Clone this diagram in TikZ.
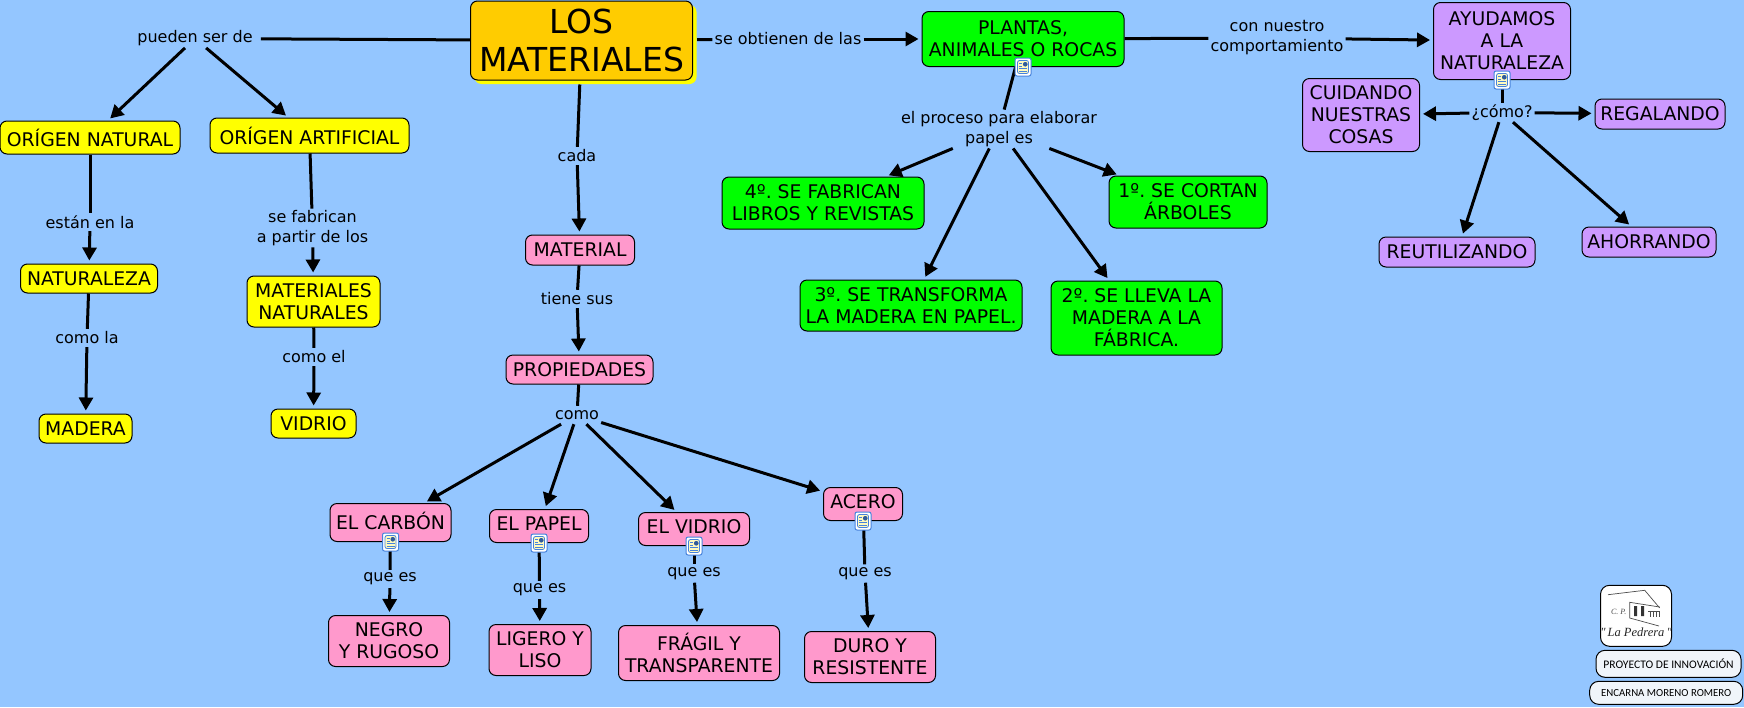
\documentclass[tikz,border=0pt]{standalone}
\usepackage{fontspec}
\setmainfont{DejaVu Sans}
\newfontfamily\smallfont{Carlito}
\newfontfamily\logofont{Liberation Serif}
\usetikzlibrary{arrows.meta,shadows}
\frenchspacing

\definecolor{bgblue}{RGB}{148,198,255}
\definecolor{matorange}{RGB}{255,204,0}
\definecolor{matyellow}{RGB}{255,255,0}
\definecolor{matgreen}{RGB}{0,255,0}
\definecolor{matpink}{RGB}{255,153,204}
\definecolor{matpurple}{RGB}{204,153,255}
\definecolor{paleblue}{RGB}{240,245,250}
\definecolor{iconblue}{RGB}{70,130,220}
\definecolor{iconpage}{RGB}{255,250,190}

\tikzset{
    box/.style={draw=black, line width=1pt, rounded corners=7pt, align=center, inner sep=0pt,
        text=black, font=\fontsize{18.8}{22}\selectfont},
    yellowbox/.style={box, fill=matyellow},
    greenbox/.style={box, fill=matgreen},
    pinkbox/.style={box, fill=matpink},
    purplebox/.style={box, fill=matpurple},
    raised/.style={text depth=4pt},
    lab/.style={align=center, inner xsep=2pt, inner ysep=1.5pt, minimum height=18pt,
        text=black, font=\fontsize{16}{20}\selectfont},
    link/.style={line width=3pt, draw=black},
    linkarrow/.style={link, -{Triangle[length=13pt,width=14pt]}, shorten >=3pt},
    credit/.style={draw=black, line width=1pt, rounded corners=9pt, fill=paleblue, inner sep=0pt,
        font=\smallfont\fontsize{11.6}{14}\selectfont},
    docicon/.style={draw=iconblue, line width=1pt, rounded corners=2pt, fill=white,
        minimum width=16pt, minimum height=18pt, inner sep=0pt,
        path picture={
            \begin{scope}[shift={(path picture bounding box.center)}]
                \draw[fill=iconpage, line width=0.8pt] (-5.5,-6.5) rectangle (5.5,6.5);
                \fill[iconblue!70!black] (0,-5) rectangle (4.5,-0.5);
                \draw[line width=0.8pt] (-4,-3.5) -- (-1,-3.5) (-4,-1) -- (-1,-1)
                    (-4,1.5) -- (4,1.5) (-4,4) -- (4,4);
            \end{scope}
        }},
}

\begin{document}
\begin{tikzpicture}[x=1pt, y=-1pt]
    \path[use as bounding box, fill=bgblue] (0,0) rectangle (1744,707);

    % main concept
    \node[box, fill=matorange, general shadow={fill=matyellow, shadow xshift=4pt, shadow yshift=-4pt},
        font=\fontsize{33}{38}\selectfont, minimum width=222pt, minimum height=79pt] (los) at (581.5,40.5) {LOS\hspace{9pt}\\MATERIALES};

    % yellow branch
    \node[yellowbox, minimum width=180pt, minimum height=33pt] (natural) at (90,137.5) {ORÍGEN NATURAL};
    \node[yellowbox, minimum width=199pt, minimum height=35pt] (artificial) at (309.5,135.5) {ORÍGEN ARTIFICIAL};
    \node[yellowbox, minimum width=137pt, minimum height=29pt] (naturaleza) at (89,278.5) {NATURALEZA};
    \node[yellowbox, minimum width=133pt, minimum height=51pt] (naturales) at (313.5,301.5) {MATERIALES\\NATURALES};
    \node[yellowbox, minimum width=93pt, minimum height=29pt] (madera) at (85.5,428.5) {MADERA};
    \node[yellowbox, minimum width=85pt, minimum height=29pt] (vidrio) at (313.5,423.5) {VIDRIO};

    % pink branch
    \node[pinkbox, minimum width=109pt, minimum height=30pt] (material) at (580,250) {MATERIAL};
    \node[pinkbox, minimum width=147pt, minimum height=29pt] (propiedades) at (579.5,369.5) {PROPIEDADES};
    \node[pinkbox, raised, minimum width=121pt, minimum height=38pt] (carbon) at (390.5,522.5) {EL CARBÓN};
    \node[pinkbox, raised, minimum width=99pt, minimum height=33pt] (papel) at (539,526) {EL PAPEL};
    \node[pinkbox, raised, minimum width=111pt, minimum height=33pt] (elvidrio) at (694,529) {EL VIDRIO};
    \node[pinkbox, raised, minimum width=79pt, minimum height=33pt] (acero) at (863,504) {ACERO};
    \node[pinkbox, minimum width=121pt, minimum height=51pt] (negro) at (389,641) {NEGRO\\Y RUGOSO};
    \node[pinkbox, minimum width=102pt, minimum height=51pt] (ligero) at (540,650) {LIGERO Y\\LISO};
    \node[pinkbox, minimum width=161pt, minimum height=55pt] (fragil) at (699,653) {FRÁGIL Y\\TRANSPARENTE};
    \node[pinkbox, minimum width=131pt, minimum height=51pt] (duro) at (870,657) {DURO Y\\RESISTENTE};

    % green branch
    \node[greenbox, minimum width=202pt, minimum height=55pt] (plantas) at (1023,39) {PLANTAS,\\ANIMALES O ROCAS};
    \node[greenbox, minimum width=202pt, minimum height=52pt] (cuarto) at (823,203) {4º. SE FABRICAN\\LIBROS Y REVISTAS};
    \node[greenbox, minimum width=158pt, minimum height=52pt] (primero) at (1188,202) {1º. SE CORTAN\\ÁRBOLES};
    \node[greenbox, minimum width=222pt, minimum height=51pt] (tercero) at (911,305.5) {3º. SE TRANSFORMA\\LA MADERA EN PAPEL.};
    \node[greenbox, minimum width=171pt, minimum height=74pt] (segundo) at (1136.5,318) {2º. SE LLEVA LA\\MADERA A LA\\FÁBRICA.};

    % purple branch
    \node[purplebox, minimum width=137pt, minimum height=77pt] (ayudamos) at (1502,41) {AYUDAMOS\\A LA\\NATURALEZA};
    \node[purplebox, minimum width=117pt, minimum height=73pt] (cuidando) at (1361,115) {CUIDANDO\\NUESTRAS\\COSAS};
    \node[purplebox, minimum width=130pt, minimum height=30pt] (regalando) at (1660,114) {REGALANDO};
    \node[purplebox, minimum width=156pt, minimum height=30pt] (reutilizando) at (1457,252) {REUTILIZANDO};
    \node[purplebox, minimum width=134pt, minimum height=30pt] (ahorrando) at (1649,242) {AHORRANDO};

    % linking words
    \node[lab] (pueden) at (195,38.5) {pueden ser de};
    \node[lab] (obtienen) at (788,39) {se obtienen de las};
    \node[lab] (nuestro) at (1277,38) {con nuestro\\comportamiento};
    \node[lab] (cada) at (577,156) {cada};
    \node[lab] (tiene) at (577,299) {tiene sus};
    \node[lab] (como) at (577,415) {como};
    \node[lab] (estan) at (90,222) {están en la};
    \node[lab] (comola) at (87,338) {como la};
    \node[lab] (fabrican) at (312.5,228) {se fabrican\\a partir de los};
    \node[lab] (comoel) at (314,357) {como el};
    \node[lab] (proceso) at (999,129) {el proceso para elaborar\\papel es};
    \node[lab] (comotal) at (1502,112.5) {¿cómo?};
    \node[lab] (quecarbon) at (390,579) {que es};
    \node[lab] (quepapel) at (539.5,590) {que es};
    \node[lab] (quevidrio) at (694,573.5) {que es};
    \node[lab] (queacero) at (865,573.5) {que es};

    % connectors, left side
    \draw[link, shorten >=6pt] (los) -- (pueden);
    \draw[linkarrow] (pueden) -- (natural);
    \draw[linkarrow] (pueden) -- (artificial);
    \draw[link] (natural) -- (estan);
    \draw[linkarrow] (estan) -- (naturaleza);
    \draw[link] (naturaleza) -- (comola);
    \draw[linkarrow] (comola) -- (madera);
    \draw[link] (artificial) -- (fabrican);
    \draw[linkarrow] (fabrican) -- (naturales);
    \draw[link] (naturales) -- (comoel);
    \draw[linkarrow] (comoel) -- (vidrio);

    % connectors, middle
    \draw[link, shorten <=4pt] (los) -- (cada);
    \draw[linkarrow] (cada) -- (material);
    \draw[link] (material) -- (tiene);
    \draw[linkarrow] (tiene) -- (propiedades);
    \draw[link] (propiedades) -- (como);
    \draw[linkarrow] (como) -- (carbon);
    \draw[linkarrow] (como) -- (papel);
    \draw[linkarrow] (como) -- (elvidrio);
    \draw[linkarrow] (como) -- (acero);
    \draw[link] (carbon) -- (quecarbon);
    \draw[linkarrow] (quecarbon) -- (negro);
    \draw[link] (papel) -- (quepapel);
    \draw[linkarrow] (quepapel) -- (ligero);
    \draw[link] (elvidrio) -- (quevidrio);
    \draw[linkarrow] (quevidrio) -- (fragil);
    \draw[link] (acero) -- (queacero);
    \draw[linkarrow] (queacero) -- (duro);

    % connectors, right side
    \draw[link, shorten <=4pt] (los) -- (obtienen);
    \draw[linkarrow] (obtienen) -- (plantas);
    \draw[link] (plantas) -- (nuestro);
    \draw[linkarrow] (nuestro) -- (ayudamos);
    \draw[link] (plantas) -- (proceso);
    \draw[linkarrow] (proceso) -- (cuarto);
    \draw[linkarrow] (proceso) -- (tercero);
    \draw[linkarrow] (proceso) -- (segundo);
    \draw[linkarrow] (proceso) -- (primero);
    \draw[link] (ayudamos) -- (comotal);
    \draw[linkarrow] (comotal) -- (cuidando);
    \draw[linkarrow] (comotal) -- (regalando);
    \draw[linkarrow] (comotal) -- (reutilizando);
    \draw[linkarrow] (comotal) -- (ahorrando);

    % document icons
    \node[docicon] (iconplantas) at (plantas.south) {};
    \node[docicon] (iconayudamos) at (ayudamos.south) {};
    \node[docicon] (iconcarbon) at (carbon.south) {};
    \node[docicon] (iconpapel) at (papel.south) {};
    \node[docicon] (iconvidrio) at (elvidrio.south) {};
    \node[docicon] (iconacero) at (acero.south) {};

    % credits
    \node[credit, fill=white, minimum width=71pt, minimum height=61pt] (logo) at (1636,615.8) {};
    \node[credit, minimum width=145pt, minimum height=27pt] (proyecto) at (1668.5,663.8) {PROYECTO DE INNOVACIÓN};
    \node[credit, font=\smallfont\fontsize{10.8}{14}\selectfont, minimum width=153pt, minimum height=23pt] (encarna) at (1666.2,692.8) {ENCARNA MORENO ROMERO};

    % school drawing
    \draw[black!70, line width=0.7pt] (1608,594.7) -- (1644.7,590.3) -- (1659.7,608);
    \draw[black!70, line width=0.7pt] (1659.7,607) -- (1629.7,602.3) -- (1629.7,618) -- (1659,626);
    \fill[black!80] (1634,606) rectangle (1637,616) (1641,606) rectangle (1644,616);
    \draw[black!70, line width=1pt] (1648,611) -- (1660,611) (1650,611) -- (1650,617) (1653,611) -- (1653,617) (1656,611) -- (1656,617) (1659,611) -- (1659,617);
    \node[inner sep=0pt, text=black!70, font=\logofont\itshape\fontsize{8}{9}\selectfont] (cepe) at (1618.7,612.3) {C. P.};
    \node[inner sep=0pt, text=black!85, font=\logofont\itshape\fontsize{12.5}{14}\selectfont] (pedrera) at (1636,632.5) {"\,La Pedrera\,"};
\end{tikzpicture}
\end{document}
